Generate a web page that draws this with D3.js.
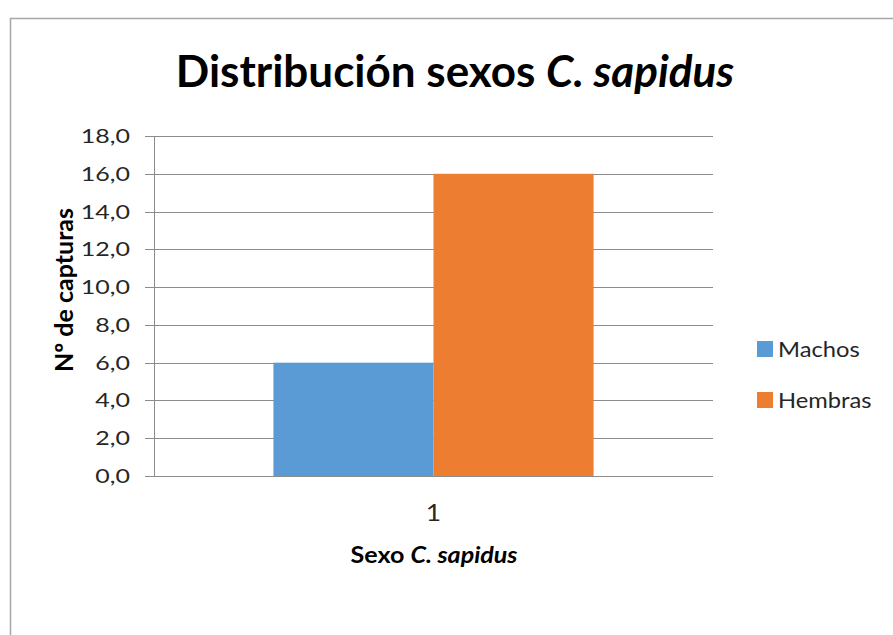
<!DOCTYPE html>
<html>
<head>
<meta charset="utf-8">
<script src="https://cdn.jsdelivr.net/npm/d3@7"></script>
<style>
body { margin: 0; background: #fff; }
svg text { font-family: Lato, "Open Sans", sans-serif; }
</style>
</head>
<body>
<script>
const categories = ['1'];
const series = ['Machos', 'Hembras'];
const machos = [6];
const hembras = [16];
const yTicks = [0, 2, 4, 6, 8, 10, 12, 14, 16, 18];
const colors = ['#5B9BD5', '#ED7D31'];

const W = 893, H = 635;
const plotL = 154, plotR = 713, plotT = 136, plotB = 476;

const svg = d3.select('body').append('svg').attr('width', W).attr('height', H);

// chart border
svg.append('rect').attr('x', 10.5).attr('y', 18.5).attr('width', 900).attr('height', 700)
  .attr('fill', 'none').attr('stroke', '#a6a6a6').attr('stroke-width', 1.5);

const y = d3.scaleLinear().domain([0, 18]).range([plotB, plotT]);
const x0 = d3.scaleBand().domain(categories).range([plotL, plotR]).paddingInner(0).paddingOuter(0.373);
const x1 = d3.scaleBand().domain(series).range([0, x0.bandwidth()]);

// gridlines + ticks
svg.append('g').selectAll('line').data(yTicks).enter().append('line')
  .attr('x1', plotL - 9).attr('x2', plotR)
  .attr('y1', d => Math.round(y(d)) + 0.5).attr('y2', d => Math.round(y(d)) + 0.5)
  .attr('stroke', '#8c8c8c').attr('stroke-width', 1);

// y axis line
svg.append('line').attr('x1', plotL + 0.5).attr('x2', plotL + 0.5).attr('y1', plotT).attr('y2', plotB)
  .attr('stroke', '#8c8c8c');

// y tick labels (text is a bit wide in the original, so stretch x)
svg.append('g').selectAll('g').data(yTicks).enter().append('g')
  .attr('transform', d => 'translate(130,' + (y(d) + 7) + ') scale(1.25,1)')
  .append('text')
  .attr('text-anchor', 'end').attr('font-size', 20).attr('fill', '#262626')
  .text(d => d3.format('.1f')(d).replace('.', ','));

// bars
const rows = categories.map((c, i) => ({ cat: c, values: [machos[i], hembras[i]] }));
const g = svg.append('g').selectAll('g').data(rows).enter().append('g')
  .attr('transform', d => 'translate(' + x0(d.cat) + ',0)');
g.selectAll('rect').data(d => d.values.map((v, j) => ({ s: series[j], v: v, c: colors[j] })))
  .enter().append('rect')
  .attr('x', d => x1(d.s)).attr('width', x1.bandwidth())
  .attr('y', d => y(d.v)).attr('height', d => y(0) - y(d.v))
  .attr('fill', d => d.c);

// baseline over bars
svg.append('line').attr('x1', plotL - 9).attr('x2', plotR).attr('y1', Math.round(y(0)) + 0.5).attr('y2', Math.round(y(0)) + 0.5)
  .attr('stroke', '#8c8c8c');

// x tick labels
svg.append('g').selectAll('g').data(categories).enter().append('g')
  .attr('transform', d => 'translate(' + (x0(d) + x0.bandwidth() / 2) + ',521) scale(1.15,1)')
  .append('text')
  .attr('text-anchor', 'middle').attr('font-size', 23).attr('fill', '#262626')
  .text(d => d);

// title
const title = svg.append('text').attr('x', 455).attr('y', 87).attr('text-anchor', 'middle')
  .attr('font-size', 44).attr('font-weight', 'bold').attr('fill', '#000');
title.append('tspan').text('Distribución sexos ');
title.append('tspan').attr('font-style', 'italic').text('C. sapidus');

// x axis title
const xt = svg.append('g').attr('transform', 'translate(434,563) scale(1.14,1)')
  .append('text').attr('text-anchor', 'middle')
  .attr('font-size', 22).attr('font-weight', 'bold').attr('fill', '#000');
xt.append('tspan').text('Sexo ');
xt.append('tspan').attr('font-style', 'italic').text('C. sapidus');

// y axis title
svg.append('text').attr('transform', 'translate(73,290) rotate(-90)')
  .attr('text-anchor', 'middle').attr('font-size', 25).attr('font-weight', 'bold').attr('fill', '#000')
  .text('Nº de capturas');

// legend
const leg = svg.append('g').selectAll('g').data(series).enter().append('g')
  .attr('transform', (d, i) => 'translate(757,' + (341 + i * 51) + ')');
leg.append('rect').attr('width', 16).attr('height', 16).attr('fill', (d, i) => colors[i]);
leg.append('g').attr('transform', 'translate(21,16) scale(1.13,1)')
  .append('text').attr('font-size', 21).attr('fill', '#262626').text(d => d);
</script>
</body>
</html>
